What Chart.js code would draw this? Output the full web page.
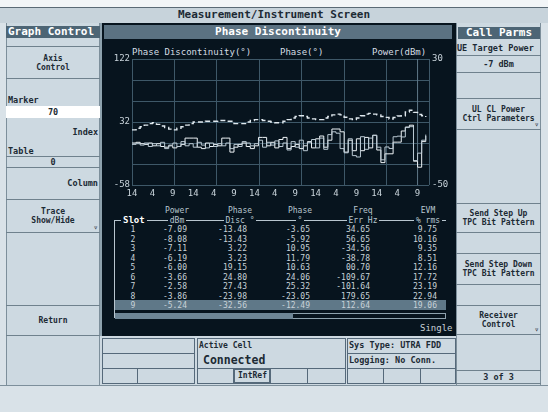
<!DOCTYPE html>
<html>
<head>
<meta charset="utf-8">
<script src="https://cdn.jsdelivr.net/npm/chart.js@4.4.1/dist/chart.umd.min.js"></script>
<style>
body { margin: 0; width: 548px; height: 412px; background: #d9e2e8; position: relative; overflow: hidden;
       font-family: 'DejaVu Sans Mono', monospace; font-weight: bold; color: #1c2a34; }
.a { position: absolute; box-sizing: border-box; white-space: nowrap; }
.panel { background: #cdd9e1; border-left: 1px solid #7d8f9b; border-right: 1px solid #7d8f9b; }
.hdr { background: #4d6575; color: #fff; font-size: 11px; line-height: 12px; }
.btn { border-top: 1px solid #6f818d; border-bottom: 1px solid #6f818d; display: flex; flex-direction: column;
       justify-content: center; align-items: center; font-size: 8px; line-height: 9px; text-align: center; }
.lbl { font-size: 8.5px; line-height: 10px; }
.cell { border: 1px solid #55697a; background: #cdd9e1; font-size: 8px; line-height: 13px; padding-left: 1px; }
.th { color: #b8c6cf; font-size: 8px; line-height: 9px; text-align: center; width: 60px; font-weight: normal; }
.td { color: #c8d2d8; font-size: 8px; line-height: 9.5px; text-align: right; font-weight: normal; }
.tri { font-size: 8px; position: absolute; right: 2px; bottom: 0; }
</style>
</head>
<body>
<!-- top bars -->
<div class="a" style="left:0;top:0;width:548px;height:7px;background:#f2f5f7"></div>
<div class="a" style="left:0;top:7px;width:548px;height:16px;background:#c7d3db;border-top:1px solid #5a6a75;font-size:11px;line-height:14px;text-align:center">Measurement/Instrument Screen</div>

<!-- left column -->
<div class="a panel" style="left:6px;top:23px;width:94px;height:362px"></div>
<div class="a hdr" style="left:6px;top:26px;width:94px;height:12px;padding-left:2px">Graph Control</div>
<div class="a btn" style="left:6px;top:46px;width:94px;height:33px">Axis<br>Control</div>
<div class="a lbl" style="left:8px;top:95px">Marker</div>
<div class="a lbl" style="left:6px;top:106px;width:94px;height:12px;background:#fff;text-align:center;line-height:12px">70</div>
<div class="a lbl" style="left:6px;top:127px;width:92px;text-align:right">Index</div>
<div class="a lbl" style="left:8px;top:146px">Table</div>
<div class="a lbl" style="left:6px;top:156px;width:94px;height:12px;border-top:1px solid #6f818d;border-bottom:1px solid #6f818d;text-align:center;line-height:11px">0</div>
<div class="a lbl" style="left:6px;top:178px;width:92px;text-align:right">Column</div>
<div class="a btn" style="left:6px;top:199px;width:94px;height:34px">Trace<br>Show/Hide<span class="tri">▿</span></div>
<div class="a btn" style="left:6px;top:305px;width:94px;height:31px">Return</div>
<div class="a" style="left:0;top:385px;width:548px;height:1px;background:#7d8f9b"></div>

<!-- right column -->
<div class="a panel" style="left:456px;top:23px;width:85px;height:362px"></div>
<div class="a hdr" style="left:458px;top:27px;width:82px;height:12px;text-align:center">Call Parms</div>
<div class="a lbl" style="left:457px;top:43px">UE Target Power</div>
<div class="a lbl" style="left:456px;top:55px;width:85px;height:18px;border-top:1px solid #6f818d;border-bottom:1px solid #6f818d;text-align:center;line-height:16px">-7 dBm</div>
<div class="a btn" style="left:456px;top:98px;width:85px;height:32px">UL CL Power<br>Ctrl Parameters<span class="tri">▿</span></div>
<div class="a btn" style="left:456px;top:203px;width:85px;height:30px">Send Step Up<br>TPC Bit Pattern</div>
<div class="a btn" style="left:456px;top:253px;width:85px;height:32px">Send Step Down<br>TPC Bit Pattern</div>
<div class="a btn" style="left:456px;top:305px;width:85px;height:30px">Receiver<br>Control<span class="tri">▿</span></div>
<div class="a lbl" style="left:456px;top:370px;width:85px;height:14px;border-top:1px solid #6f818d;border-bottom:1px solid #6f818d;text-align:center;line-height:12px">3 of 3</div>

<!-- dark measurement area -->
<div class="a" style="left:100px;top:23px;width:356px;height:313px;background:#07141e;border-left:2px solid #8ea2ae"></div>
<div class="a" style="left:104px;top:25px;width:348px;height:14px;background:#5b7282;color:#fff;font-size:11px;line-height:14px;text-align:center">Phase Discontinuity</div>
<div class="a" style="left:132px;top:47px;color:#d5dee4;font-size:9px;font-weight:normal">Phase Discontinuity(°)</div>
<div class="a" style="left:280px;top:47px;color:#d5dee4;font-size:9px;font-weight:normal">Phase(°)</div>
<div class="a" style="left:372px;top:47px;color:#d5dee4;font-size:9px;font-weight:normal">Power(dBm)</div>
<div class="a" style="left:102px;top:42px;width:353px;height:158px"><canvas id="phaseChart"></canvas></div>

<!-- results table -->
<div class="a" style="left:115px;top:300px;width:331px;height:10px;background:#5f7888"></div>
<div class="a" style="left:115px;top:220px;width:331px;height:1px;background:#b8c6cf"></div>
<div class="a" style="left:114px;top:220px;width:1px;height:98px;background:#b8c6cf"></div>
<div class="a" style="left:115px;top:313px;width:331px;height:6px;border:1px solid #8ea2ae"></div>
<div class="a" style="left:115px;top:313px;width:178px;height:6px;background:#6e8696"></div>
<div class="a" style="left:420px;top:323px;color:#c7d2d9;font-size:9px;font-weight:normal">Single</div>
<div id="tbl"></div>

<!-- status area -->
<div class="a" style="left:100px;top:336px;width:356px;height:49px;background:#cdd9e1"></div>
<div class="a cell" style="left:102px;top:338px;width:93px;height:16px"></div>
<div class="a cell" style="left:102px;top:353px;width:93px;height:16px"></div>
<div class="a cell" style="left:102px;top:368px;width:36px;height:16px"></div>
<div class="a cell" style="left:137px;top:368px;width:58px;height:16px"></div>
<div class="a cell" style="left:197px;top:338px;width:149px;height:31px"></div>
<div class="a" style="left:199px;top:341px;font-size:8px">Active Cell</div>
<div class="a" style="left:203px;top:353px;font-size:11.5px">Connected</div>
<div class="a cell" style="left:197px;top:368px;width:37px;height:16px"></div>
<div class="a cell" style="left:233px;top:368px;width:38px;height:16px;border:2px solid #55697a;text-align:center;line-height:11px">IntRef</div>
<div class="a cell" style="left:270px;top:368px;width:38px;height:16px"></div>
<div class="a cell" style="left:307px;top:368px;width:39px;height:16px"></div>
<div class="a cell" style="left:347px;top:338px;width:109px;height:16px;font-size:8.5px">Sys Type: UTRA FDD</div>
<div class="a cell" style="left:347px;top:353px;width:109px;height:16px;font-size:8.5px">Logging: No Conn.</div>
<div class="a cell" style="left:347px;top:368px;width:37px;height:16px"></div>
<div class="a cell" style="left:383px;top:368px;width:38px;height:16px"></div>
<div class="a cell" style="left:420px;top:368px;width:36px;height:16px"></div>

<script>
// slot index runs 0..72 along the trace, marker sits at slot 70
const powerDbm = [
    -15, -14, -13, -12, -11, -10.5, -11.5, -12.5, -13.5, -14.5,
    -15, -14, -13, -12, -11, -10, -10, -10, -9.5, -9.5,
    -9.5, -9, -9, -9.5, -9.5, -11, -11, -11, -10, -9,
    -8.5, -8.5, -9, -9.5, -10, -10.5, -10.5, -9.5, -8.5, -7.5,
    -6.5, -6, -6.5, -7.5, -8, -8.5, -8.5, -7.5, -6.5, -5.5,
    -5, -5.5, -7, -8, -8.5, -7.5, -6, -5, -4.5, -5,
    -5.5, -6.5, -7.09, -8.08, -7.11, -6.19, -6.00, -3.66, -2.58, -3.86,
    -5.24, -6, -6.8
];
const phaseDisc = [
    2, 3, 1, 0, 2, -2, 1, -3, -4, -2,
    -5, -3, 0, 9, 9, 9, -4, -6, 2, -3,
    0, -2, 9, 9, -11, -4, 0, 2, -3, -6,
    -2, 10, 10, -2, 3, -5, 7, 10, -6, -3,
    0, -6, -2, 4, -5, 8, 12, -4, 6, 22,
    22, 18, -11, 6, -9, 8, -9, 10, -5, 13,
    -8, -26, -13.48, -13.43, 3.22, 3.23, 19.15, 24.80, 27.43, -23.98,
    -32.56, 4, 12
];
const phaseDeg = [
    0, 1, -1, 2, -3, 1, -2, 3, -6, -1,
    2, -3, 4, -2, 1, -4, 3, -1, -5, 2,
    -3, 1, -2, 2, -6, 0, -3, 4, 2, -2,
    1, 6, -4, 3, -1, 5, -3, 2, -8, 4,
    -4, 6, -9, 3, 7, -5, 9, -7, 14, 18,
    16, -6, -12, 8, -16, -18, 11, -7, 9, 13,
    -4, -22, -3.65, -5.92, 10.95, 11.79, 10.63, 24.06, 25.32, -23.05,
    -12.49, 6, 14
];
const markerSlot = 70;
const xMax = 72.8;
const xTickSlots = [0, 5, 10, 15, 20, 25, 30, 35, 40, 45, 50, 55, 60, 65, 70];
const xTickLabels = ['14', '4', '9', '14', '4', '9', '14', '4', '9', '14', '4', '9', '14', '4', '9'];
const yLeftGrid = [-58, -28, 2, 32, 62, 92, 122];
const yLeftLabels = [122, 32, -58];
const yRightTicks = [-50, 30];

// table of marker results
const tableSlots = ['1', '2', '3', '4', '5', '6', '7', '8', '9'];
const tablePower = ['-7.09', '-8.08', '-7.11', '-6.19', '-6.00', '-3.66', '-2.58', '-3.86', '-5.24'];
const tablePhaseDisc = ['-13.48', '-13.43', '3.22', '3.23', '19.15', '24.80', '27.43', '-23.98', '-32.56'];
const tablePhase = ['-3.65', '-5.92', '10.95', '11.79', '10.63', '24.06', '25.32', '-23.05', '-12.49'];
const tableFreqErr = ['34.65', '56.65', '-34.56', '-38.78', '00.70', '-109.67', '-101.64', '179.65', '112.64'];
const tableEvm = ['9.75', '10.16', '9.35', '8.51', '12.16', '17.72', '23.19', '22.94', '19.06'];
const colTop = ['Power', 'Phase', 'Phase', 'Freq', 'EVM'];
const colUnit = ['dBm', 'Disc °', '°', 'Err Hz', '% rms'];

function buildTable() {
    const tbl = document.getElementById('tbl');
    const centers = [177, 240, 300, 363, 428];
    const rights = [187, 247, 310, 370, 437];
    let html = '';
    centers.forEach((c, i) => {
        html += `<div class="a th" style="left:${c - 30}px;top:206px">${colTop[i]}</div>`;
        html += `<div class="a th" style="left:${c - 30}px;top:216px;z-index:2"><span style="background:#07141e;padding:0 2px">${colUnit[i]}</span></div>`;
    });
    html += `<div class="a" style="left:121px;top:215px;z-index:2;background:#07141e;color:#fff;font-size:9px;padding:0 2px">Slot</div>`;
    const cols = [tablePower, tablePhaseDisc, tablePhase, tableFreqErr, tableEvm];
    tableSlots.forEach((s, r) => {
        const top = 225 + r * 9.5;
        html += `<div class="a td" style="left:123px;top:${top}px;width:20px;text-align:center">${s}</div>`;
        cols.forEach((col, i) => {
            html += `<div class="a td" style="left:${rights[i] - 50}px;top:${top}px;width:50px">${col[r]}</div>`;
        });
    });
    tbl.innerHTML = html;
}

function renderChart() {
    const ctx = document.getElementById('phaseChart').getContext('2d');
    const gridColor = '#3e5868';
    const tickFont = { family: 'DejaVu Sans Mono', size: 9 };
    const toPts = arr => arr.map((v, i) => ({ x: i, y: v }));

    new Chart(ctx, {
        type: 'line',
        data: {
            datasets: [
                { label: 'Power(dBm)', data: toPts(powerDbm), yAxisID: 'y1', stepped: true,
                  borderColor: '#dfe8ee', borderWidth: 1.4, borderDash: [5, 3], pointRadius: 0 },
                { label: 'Phase(°)', data: toPts(phaseDeg), yAxisID: 'y', stepped: true,
                  borderColor: '#b9c8d2', borderWidth: 1, pointRadius: 0 },
                { label: 'Phase Discontinuity(°)', data: toPts(phaseDisc), yAxisID: 'y', stepped: true,
                  borderColor: '#eef3f6', borderWidth: 1, pointRadius: 0 },
                { label: 'Marker', data: [{ x: markerSlot, y: -58 }, { x: markerSlot, y: 122 }], yAxisID: 'y',
                  borderColor: '#5f7888', borderWidth: 1, pointRadius: 0 }
            ]
        },
        options: {
            responsive: true,
            maintainAspectRatio: false,
            animation: false,
            layout: { padding: { top: 17, left: 0, right: 0, bottom: 0 } },
            plugins: { legend: { display: false }, tooltip: { enabled: false } },
            scales: {
                x: {
                    type: 'linear', min: 0, max: xMax, position: 'bottom',
                    grid: { display: false, drawTicks: false }, border: { display: false },
                    afterBuildTicks: s => { s.ticks = xTickSlots.map(v => ({ value: v })); },
                    ticks: { color: '#c9d4db', font: tickFont, padding: 3, maxRotation: 0, autoSkip: false,
                             callback: (v, i) => xTickLabels[i] },
                    afterFit: s => { s.height = 15; }
                },
                xg: {
                    type: 'linear', min: 0, max: xMax, position: 'top',
                    grid: { color: gridColor, drawTicks: false }, border: { display: false },
                    ticks: { display: false },
                    afterBuildTicks: s => { s.ticks = Array.from({ length: 8 }, (_, i) => ({ value: i * xMax / 7 })); },
                    afterFit: s => { s.height = 0; }
                },
                y: {
                    position: 'left', min: -58, max: 122,
                    grid: { color: gridColor, drawTicks: false }, border: { display: false },
                    afterBuildTicks: s => { s.ticks = yLeftGrid.map(v => ({ value: v })); },
                    ticks: { color: '#c9d4db', font: tickFont, padding: 2,
                             callback: v => yLeftLabels.includes(v) ? String(v) : '' },
                    afterFit: s => { s.width = 30; }
                },
                y1: {
                    position: 'right', min: -50, max: 30,
                    grid: { display: false, drawTicks: false }, border: { display: false },
                    afterBuildTicks: s => { s.ticks = yRightTicks.map(v => ({ value: v })); },
                    ticks: { color: '#c9d4db', font: tickFont, padding: 3 },
                    afterFit: s => { s.width = 26; }
                }
            }
        }
    });
}

buildTable();
renderChart();
</script>
</body>
</html>
